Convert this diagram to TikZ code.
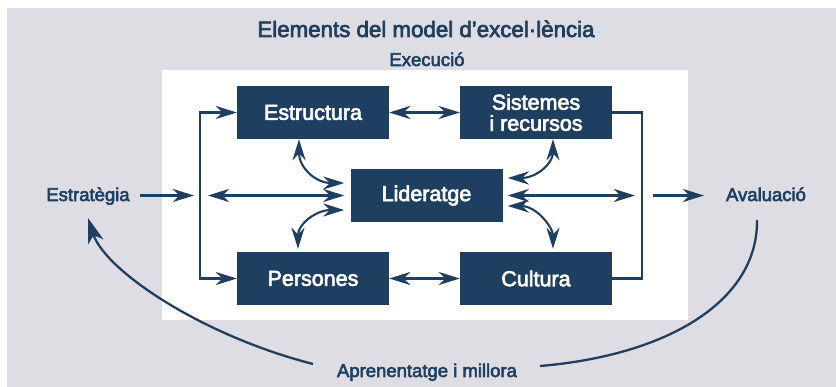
\documentclass[tikz,border=0pt]{standalone}
\usepackage{fontspec}
\setmainfont{Liberation Sans}[RawFeature={embolden=3}]
\usetikzlibrary{arrows.meta,calc}
\definecolor{navy}{HTML}{1F3F60}
\definecolor{bggray}{HTML}{DEDDE3}
\begin{document}
\begin{tikzpicture}[x=1pt,y=-1pt,
  navtip/.tip={Stealth[length=21pt,width=13pt,inset=6.5pt]},
  bigtip/.tip={Stealth[length=25pt,width=16pt,inset=7pt]},
  box/.style={fill=navy, text=white, minimum width=152pt, minimum height=53pt,
    inner sep=0pt, align=center, font=\fontsize{21.5}{21}\selectfont},
  lbl/.style={text=navy, inner sep=0pt, anchor=base, font=\fontsize{18.5}{20}\selectfont},
  con/.style={draw=navy, line width=2.1pt},
  arc/.style={draw=navy, line width=2.3pt}
]
\useasboundingbox (0,0) rectangle (836,387);
\fill[bggray] (7,8) rectangle (836,387);
\fill[white] (162,70) rectangle (688,320);

% labels
\node[lbl, font=\fontsize{22.3}{24}\selectfont] (title) at (426,37) {Elements del model d’excel·lència};
\node[lbl] (exec) at (427,66) {Execució};
\node[lbl] (estrat) at (88,201) {Estratègia};
\node[lbl] (aval) at (766,201) {Avaluació};
\node[lbl] (apren) at (427,377) {Aprenentatge i millora};

% boxes
\node[box] (struct) at (313,112.5) {Estructura};
\node[box] (sist) at (536,112.5) {Sistemes\\i recursos};
\node[box] (lid) at (426.5,195.5) {Lideratge};
\node[box] (pers) at (313,278.5) {Persones};
\node[box] (cult) at (536,278.5) {Cultura};

% helper coordinates
\coordinate (lt) at (200,112.5);
\coordinate (lb) at (200,278.5);
\coordinate (rt) at (642,112.5);
\coordinate (rb) at (642,278.5);
\coordinate (estA) at (140,195.5);
\coordinate (estB) at (194,195.5);
\coordinate (lmid) at (208,195.5);
\coordinate (rmid) at (635,195.5);
\coordinate (avA) at (653,195.5);
\coordinate (avB) at (704,195.5);
\coordinate (arcLs) at (313,364);
\coordinate (arcRs) at (757,220);
\coordinate (arcRe) at (540,366);

% left bracket
\draw[con,-navtip] (lb) -- (lt) -- (struct.west);
\draw[con,-navtip] (lt) -- (lb) -- (pers.west);
% right bracket
\draw[con] (sist.east) -- (rt) -- (rb) -- (cult.east);

% horizontal arrows
\draw[con,-navtip] (estA) -- (estB);
\draw[con,navtip-navtip] (lmid) -- ([xshift=-6pt]lid.west);
\draw[con,navtip-navtip] ([xshift=5pt]lid.east) -- (rmid);
\draw[con,-navtip] (avA) -- (avB);
\draw[con,navtip-navtip] (struct.east) -- (sist.west);
\draw[con,navtip-navtip] (pers.east) -- (cult.west);

% curved arrows around Lideratge
\draw[con,navtip-navtip] ([xshift=-14pt]struct.south) .. controls (299,168) and (316,183) .. ([xshift=-6pt,yshift=12.5pt]lid.west);
\draw[con,navtip-navtip] ([xshift=-6pt,yshift=-14.5pt]lid.west) .. controls (316,210) and (298,224) .. ([xshift=-15pt,yshift=3pt]pers.north);
\draw[con,navtip-navtip] ([xshift=5pt,yshift=17.5pt]lid.east) .. controls (537,178) and (553,163) .. ([xshift=17pt]sist.south);
\draw[con,navtip-navtip] ([xshift=5pt,yshift=-10.5pt]lid.east) .. controls (537,206) and (553,228) .. ([xshift=17pt,yshift=3pt]cult.north);

% big arcs
\draw[arc,-bigtip] (arcLs) .. controls (200,335) and (105,270) .. ([yshift=-13pt]estrat.south);
\draw[arc] (arcRs) .. controls (758,300) and (670,355) .. (arcRe);
\end{tikzpicture}
\end{document}
